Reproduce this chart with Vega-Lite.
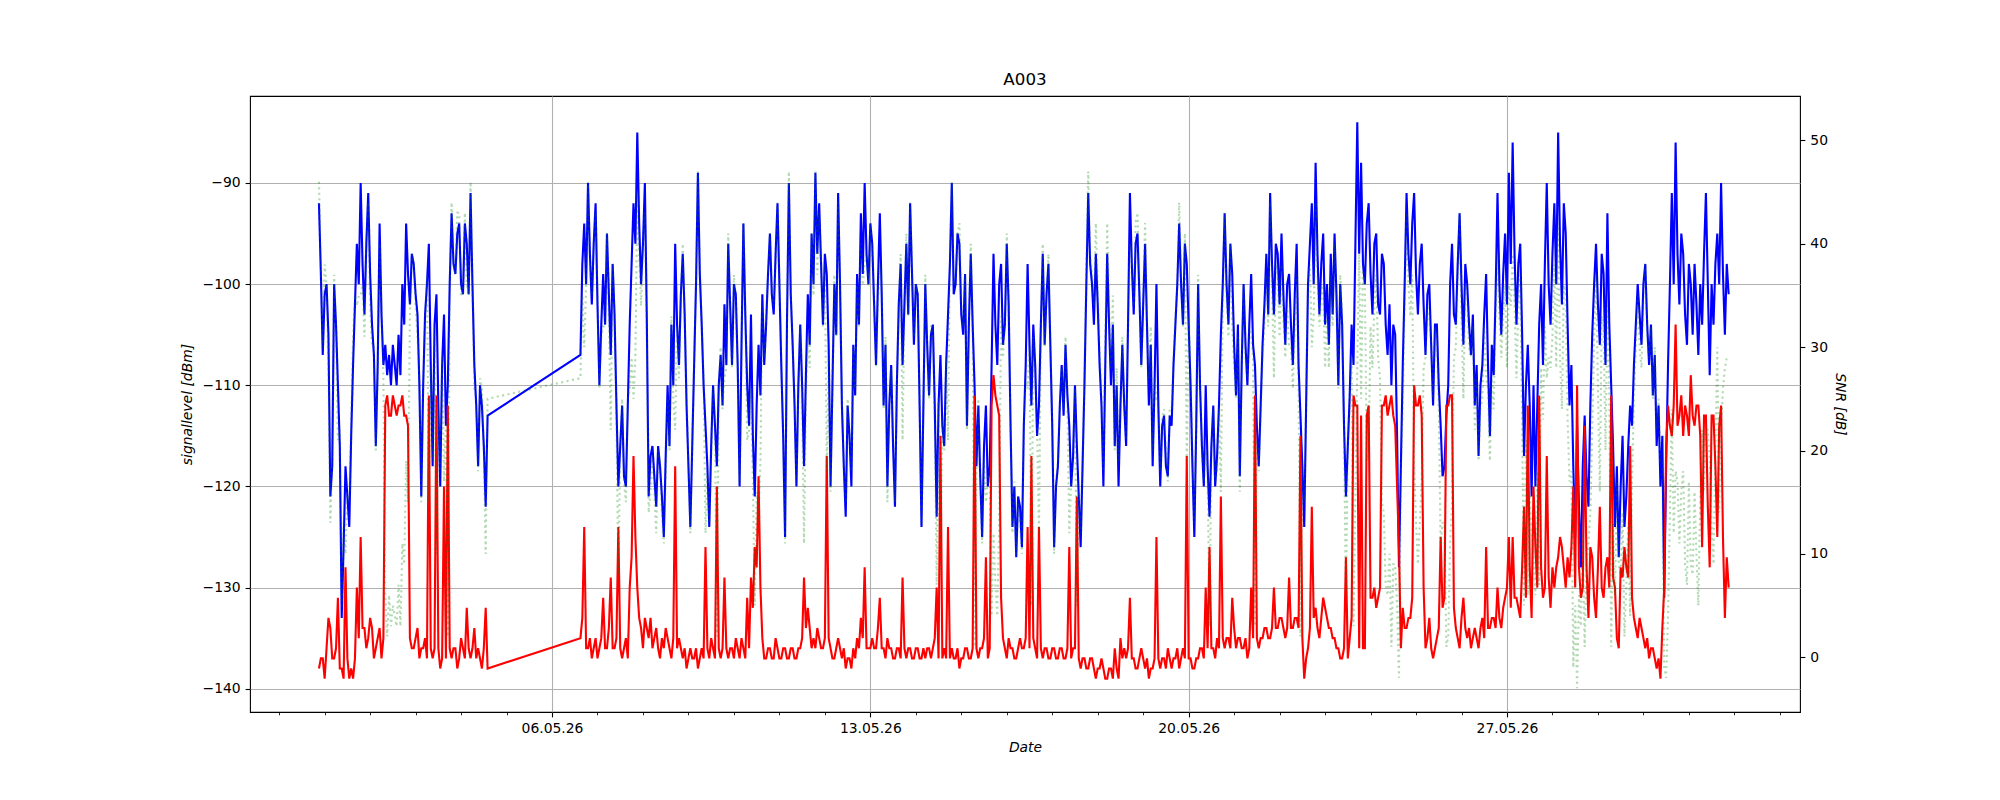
{
"$schema": "https://vega.github.io/schema/vega-lite/v6.json",
"width": 1550, "height": 616,
"autosize": {"type": "none"},
"padding": {"left": 250, "top": 96, "right": 200, "bottom": 88},
"background": "white",
"title": {"text": "A003", "fontSize": 16.7, "fontWeight": "normal", "font": "DejaVu Sans", "color": "black", "offset": 7},
"config": {
 "font": "DejaVu Sans",
 "view": {"stroke": "black", "strokeWidth": 1.1},
 "axis": {"domain": false, "tickColor": "black", "tickWidth": 1.1, "tickSize": 4.9, "labelPadding": 4.9, "labelFontSize": 13.9, "labelColor": "black", "labelFont": "DejaVu Sans", "titleFont": "DejaVu Sans", "titleFontSize": 13.9, "titleFontWeight": "normal", "titleFontStyle": "italic", "titleColor": "black", "gridColor": "#b0b0b0", "gridWidth": 1.1}
},
"data": {"values": [
{"t":"2026-04-30T21:00","s":-92,"n":-138,"r":46},
{"t":"2026-04-30T22:00","s":-99,"n":-137,"r":38},
{"t":"2026-04-30T23:00","s":-107,"n":-137,"r":30},
{"t":"2026-05-01T00:00","s":-101,"n":-139,"r":38},
{"t":"2026-05-01T01:00","s":-100,"n":-136,"r":36},
{"t":"2026-05-01T02:00","s":-105,"n":-133,"r":28},
{"t":"2026-05-01T03:00","s":-121,"n":-134,"r":13},
{"t":"2026-05-01T04:00","s":-118,"n":-137,"r":19},
{"t":"2026-05-01T05:00","s":-100,"n":-137,"r":37},
{"t":"2026-05-01T06:00","s":-104,"n":-136,"r":32},
{"t":"2026-05-01T07:00","s":-110,"n":-131,"r":21},
{"t":"2026-05-01T08:00","s":-116,"n":-138,"r":22},
{"t":"2026-05-01T09:00","s":-133,"n":-138,"r":5},
{"t":"2026-05-01T10:00","s":-126,"n":-139,"r":13},
{"t":"2026-05-01T11:00","s":-118,"n":-128,"r":10},
{"t":"2026-05-01T12:00","s":-121,"n":-137,"r":16},
{"t":"2026-05-01T13:00","s":-124,"n":-139,"r":15},
{"t":"2026-05-01T14:00","s":-115,"n":-138,"r":23},
{"t":"2026-05-01T15:00","s":-108,"n":-139,"r":31},
{"t":"2026-05-01T16:00","s":-102,"n":-137,"r":35},
{"t":"2026-05-01T17:00","s":-96,"n":-130,"r":34},
{"t":"2026-05-01T18:00","s":-100,"n":-135,"r":35},
{"t":"2026-05-01T19:00","s":-90,"n":-125,"r":35},
{"t":"2026-05-01T20:00","s":-98,"n":-134,"r":36},
{"t":"2026-05-01T21:00","s":-103,"n":-134,"r":31},
{"t":"2026-05-01T22:00","s":-96,"n":-136,"r":40},
{"t":"2026-05-01T23:00","s":-91,"n":-135,"r":44},
{"t":"2026-05-02T00:00","s":-99,"n":-133,"r":34},
{"t":"2026-05-02T01:00","s":-104,"n":-134,"r":30},
{"t":"2026-05-02T02:00","s":-107,"n":-137,"r":30},
{"t":"2026-05-02T03:00","s":-116,"n":-136,"r":20},
{"t":"2026-05-02T04:00","s":-108,"n":-135,"r":27},
{"t":"2026-05-02T05:00","s":-94,"n":-134,"r":40},
{"t":"2026-05-02T06:00","s":-103,"n":-137,"r":34},
{"t":"2026-05-02T07:00","s":-108,"n":-135,"r":27},
{"t":"2026-05-02T08:00","s":-106,"n":-112,"r":6},
{"t":"2026-05-02T09:00","s":-109,"n":-111,"r":2},
{"t":"2026-05-02T10:00","s":-107,"n":-113,"r":6},
{"t":"2026-05-02T11:00","s":-110,"n":-113,"r":3},
{"t":"2026-05-02T12:00","s":-106,"n":-111,"r":5},
{"t":"2026-05-02T13:00","s":-108,"n":-112,"r":4},
{"t":"2026-05-02T14:00","s":-110,"n":-113,"r":3},
{"t":"2026-05-02T15:00","s":-105,"n":-112,"r":7},
{"t":"2026-05-02T16:00","s":-109,"n":-112,"r":3},
{"t":"2026-05-02T17:00","s":-100,"n":-111,"r":11},
{"t":"2026-05-02T18:00","s":-104,"n":-113,"r":9},
{"t":"2026-05-02T19:00","s":-94,"n":-113,"r":19},
{"t":"2026-05-02T20:00","s":-99,"n":-114,"r":15},
{"t":"2026-05-02T21:00","s":-102,"n":-135,"r":33},
{"t":"2026-05-02T22:00","s":-97,"n":-136,"r":39},
{"t":"2026-05-02T23:00","s":-98,"n":-136,"r":38},
{"t":"2026-05-03T00:00","s":-101,"n":-135,"r":34},
{"t":"2026-05-03T01:00","s":-103,"n":-134,"r":31},
{"t":"2026-05-03T02:00","s":-110,"n":-137,"r":27},
{"t":"2026-05-03T03:00","s":-121,"n":-136,"r":15},
{"t":"2026-05-03T04:00","s":-110,"n":-136,"r":26},
{"t":"2026-05-03T05:00","s":-103,"n":-135,"r":32},
{"t":"2026-05-03T06:00","s":-100,"n":-137,"r":37},
{"t":"2026-05-03T07:00","s":-96,"n":-111,"r":15},
{"t":"2026-05-03T08:00","s":-108,"n":-136,"r":28},
{"t":"2026-05-03T09:00","s":-118,"n":-137,"r":19},
{"t":"2026-05-03T10:00","s":-104,"n":-136,"r":32},
{"t":"2026-05-03T11:00","s":-101,"n":-111,"r":10},
{"t":"2026-05-03T12:00","s":-112,"n":-136,"r":24},
{"t":"2026-05-03T13:00","s":-120,"n":-138,"r":18},
{"t":"2026-05-03T14:00","s":-108,"n":-137,"r":29},
{"t":"2026-05-03T15:00","s":-103,"n":-120,"r":17},
{"t":"2026-05-03T16:00","s":-114,"n":-137,"r":23},
{"t":"2026-05-03T17:00","s":-110,"n":-112,"r":2},
{"t":"2026-05-03T18:00","s":-100,"n":-136,"r":36},
{"t":"2026-05-03T19:00","s":-93,"n":-137,"r":44},
{"t":"2026-05-03T20:00","s":-98,"n":-136,"r":38},
{"t":"2026-05-03T21:00","s":-99,"n":-136,"r":37},
{"t":"2026-05-03T22:00","s":-95,"n":-138,"r":43},
{"t":"2026-05-03T23:00","s":-94,"n":-137,"r":43},
{"t":"2026-05-04T00:00","s":-100,"n":-135,"r":35},
{"t":"2026-05-04T01:00","s":-101,"n":-136,"r":35},
{"t":"2026-05-04T02:00","s":-94,"n":-137,"r":43},
{"t":"2026-05-04T03:00","s":-96,"n":-132,"r":36},
{"t":"2026-05-04T04:00","s":-101,"n":-136,"r":35},
{"t":"2026-05-04T05:00","s":-91,"n":-137,"r":46},
{"t":"2026-05-04T06:00","s":-100,"n":-136,"r":36},
{"t":"2026-05-04T07:00","s":-108,"n":-134,"r":26},
{"t":"2026-05-04T08:00","s":-112,"n":-137,"r":25},
{"t":"2026-05-04T09:00","s":-118,"n":-136,"r":18},
{"t":"2026-05-04T10:00","s":-110,"n":-137,"r":27},
{"t":"2026-05-04T11:00","s":-112,"n":-138,"r":26},
{"t":"2026-05-04T12:00","s":-116,"n":-136,"r":20},
{"t":"2026-05-04T13:00","s":-122,"n":-132,"r":10},
{"t":"2026-05-04T14:00","s":-113,"n":-138,"r":25},
{"t":"2026-05-06T15:00","s":-107,"n":-135,"r":27},
{"t":"2026-05-06T16:00","s":-98,"n":-133,"r":35},
{"t":"2026-05-06T17:00","s":-94,"n":-124,"r":30},
{"t":"2026-05-06T18:00","s":-100,"n":-136,"r":36},
{"t":"2026-05-06T19:00","s":-90,"n":-136,"r":46},
{"t":"2026-05-06T20:00","s":-97,"n":-135,"r":38},
{"t":"2026-05-06T21:00","s":-102,"n":-137,"r":35},
{"t":"2026-05-06T22:00","s":-96,"n":-136,"r":40},
{"t":"2026-05-06T23:00","s":-92,"n":-135,"r":43},
{"t":"2026-05-07T00:00","s":-102,"n":-137,"r":35},
{"t":"2026-05-07T01:00","s":-110,"n":-136,"r":26},
{"t":"2026-05-07T02:00","s":-104,"n":-135,"r":31},
{"t":"2026-05-07T03:00","s":-99,"n":-131,"r":32},
{"t":"2026-05-07T04:00","s":-104,"n":-136,"r":32},
{"t":"2026-05-07T05:00","s":-95,"n":-136,"r":41},
{"t":"2026-05-07T06:00","s":-101,"n":-134,"r":33},
{"t":"2026-05-07T07:00","s":-107,"n":-129,"r":22},
{"t":"2026-05-07T08:00","s":-98,"n":-136,"r":38},
{"t":"2026-05-07T09:00","s":-103,"n":-136,"r":33},
{"t":"2026-05-07T10:00","s":-112,"n":-135,"r":23},
{"t":"2026-05-07T11:00","s":-120,"n":-124,"r":8},
{"t":"2026-05-07T12:00","s":-116,"n":-136,"r":20},
{"t":"2026-05-07T13:00","s":-112,"n":-137,"r":25},
{"t":"2026-05-07T14:00","s":-119,"n":-136,"r":17},
{"t":"2026-05-07T15:00","s":-120,"n":-135,"r":15},
{"t":"2026-05-07T16:00","s":-112,"n":-137,"r":25},
{"t":"2026-05-07T17:00","s":-104,"n":-130,"r":26},
{"t":"2026-05-07T18:00","s":-98,"n":-127,"r":29},
{"t":"2026-05-07T19:00","s":-92,"n":-117,"r":25},
{"t":"2026-05-07T20:00","s":-96,"n":-125,"r":29},
{"t":"2026-05-07T21:00","s":-85,"n":-130,"r":45},
{"t":"2026-05-07T22:00","s":-94,"n":-133,"r":39},
{"t":"2026-05-07T23:00","s":-100,"n":-134,"r":34},
{"t":"2026-05-08T00:00","s":-96,"n":-136,"r":40},
{"t":"2026-05-08T01:00","s":-90,"n":-133,"r":43},
{"t":"2026-05-08T02:00","s":-103,"n":-134,"r":31},
{"t":"2026-05-08T03:00","s":-121,"n":-135,"r":14},
{"t":"2026-05-08T04:00","s":-117,"n":-133,"r":16},
{"t":"2026-05-08T05:00","s":-116,"n":-136,"r":20},
{"t":"2026-05-08T06:00","s":-119,"n":-135,"r":16},
{"t":"2026-05-08T07:00","s":-122,"n":-134,"r":12},
{"t":"2026-05-08T08:00","s":-116,"n":-136,"r":20},
{"t":"2026-05-08T09:00","s":-118,"n":-137,"r":19},
{"t":"2026-05-08T10:00","s":-121,"n":-135,"r":14},
{"t":"2026-05-08T11:00","s":-125,"n":-136,"r":11},
{"t":"2026-05-08T12:00","s":-117,"n":-134,"r":17},
{"t":"2026-05-08T13:00","s":-110,"n":-135,"r":25},
{"t":"2026-05-08T14:00","s":-116,"n":-136,"r":20},
{"t":"2026-05-08T15:00","s":-104,"n":-137,"r":33},
{"t":"2026-05-08T16:00","s":-110,"n":-135,"r":25},
{"t":"2026-05-08T17:00","s":-96,"n":-118,"r":22},
{"t":"2026-05-08T18:00","s":-104,"n":-136,"r":32},
{"t":"2026-05-08T19:00","s":-108,"n":-135,"r":27},
{"t":"2026-05-08T20:00","s":-101,"n":-136,"r":35},
{"t":"2026-05-08T21:00","s":-97,"n":-137,"r":40},
{"t":"2026-05-08T22:00","s":-103,"n":-136,"r":33},
{"t":"2026-05-08T23:00","s":-112,"n":-138,"r":26},
{"t":"2026-05-09T00:00","s":-118,"n":-137,"r":19},
{"t":"2026-05-09T01:00","s":-124,"n":-136,"r":12},
{"t":"2026-05-09T02:00","s":-116,"n":-137,"r":21},
{"t":"2026-05-09T03:00","s":-108,"n":-137,"r":29},
{"t":"2026-05-09T04:00","s":-100,"n":-136,"r":36},
{"t":"2026-05-09T05:00","s":-89,"n":-138,"r":47},
{"t":"2026-05-09T06:00","s":-99,"n":-137,"r":38},
{"t":"2026-05-09T07:00","s":-104,"n":-136,"r":32},
{"t":"2026-05-09T08:00","s":-110,"n":-137,"r":27},
{"t":"2026-05-09T09:00","s":-114,"n":-126,"r":12},
{"t":"2026-05-09T10:00","s":-118,"n":-136,"r":18},
{"t":"2026-05-09T11:00","s":-124,"n":-137,"r":13},
{"t":"2026-05-09T12:00","s":-116,"n":-135,"r":19},
{"t":"2026-05-09T13:00","s":-110,"n":-136,"r":26},
{"t":"2026-05-09T14:00","s":-114,"n":-137,"r":23},
{"t":"2026-05-09T15:00","s":-118,"n":-120,"r":2},
{"t":"2026-05-09T16:00","s":-110,"n":-136,"r":26},
{"t":"2026-05-09T17:00","s":-107,"n":-137,"r":30},
{"t":"2026-05-09T18:00","s":-112,"n":-136,"r":24},
{"t":"2026-05-09T19:00","s":-102,"n":-129,"r":27},
{"t":"2026-05-09T20:00","s":-108,"n":-136,"r":28},
{"t":"2026-05-09T21:00","s":-96,"n":-137,"r":41},
{"t":"2026-05-09T22:00","s":-102,"n":-136,"r":34},
{"t":"2026-05-09T23:00","s":-108,"n":-136,"r":28},
{"t":"2026-05-10T00:00","s":-100,"n":-137,"r":37},
{"t":"2026-05-10T01:00","s":-101,"n":-135,"r":34},
{"t":"2026-05-10T02:00","s":-108,"n":-136,"r":28},
{"t":"2026-05-10T03:00","s":-120,"n":-137,"r":17},
{"t":"2026-05-10T04:00","s":-106,"n":-135,"r":29},
{"t":"2026-05-10T05:00","s":-94,"n":-136,"r":42},
{"t":"2026-05-10T06:00","s":-103,"n":-137,"r":34},
{"t":"2026-05-10T07:00","s":-110,"n":-131,"r":21},
{"t":"2026-05-10T08:00","s":-114,"n":-136,"r":22},
{"t":"2026-05-10T09:00","s":-103,"n":-129,"r":26},
{"t":"2026-05-10T10:00","s":-115,"n":-132,"r":17},
{"t":"2026-05-10T11:00","s":-121,"n":-126,"r":5},
{"t":"2026-05-10T12:00","s":-112,"n":-128,"r":16},
{"t":"2026-05-10T13:00","s":-106,"n":-119,"r":13},
{"t":"2026-05-10T14:00","s":-111,"n":-130,"r":19},
{"t":"2026-05-10T15:00","s":-101,"n":-135,"r":34},
{"t":"2026-05-10T16:00","s":-108,"n":-137,"r":29},
{"t":"2026-05-10T17:00","s":-104,"n":-137,"r":33},
{"t":"2026-05-10T18:00","s":-99,"n":-136,"r":37},
{"t":"2026-05-10T19:00","s":-95,"n":-136,"r":41},
{"t":"2026-05-10T20:00","s":-101,"n":-137,"r":36},
{"t":"2026-05-10T21:00","s":-103,"n":-137,"r":34},
{"t":"2026-05-10T22:00","s":-97,"n":-135,"r":38},
{"t":"2026-05-10T23:00","s":-92,"n":-136,"r":44},
{"t":"2026-05-11T00:00","s":-100,"n":-137,"r":37},
{"t":"2026-05-11T01:00","s":-108,"n":-137,"r":29},
{"t":"2026-05-11T02:00","s":-115,"n":-136,"r":21},
{"t":"2026-05-11T03:00","s":-125,"n":-136,"r":11},
{"t":"2026-05-11T04:00","s":-104,"n":-137,"r":33},
{"t":"2026-05-11T05:00","s":-90,"n":-137,"r":47},
{"t":"2026-05-11T06:00","s":-101,"n":-136,"r":35},
{"t":"2026-05-11T07:00","s":-106,"n":-136,"r":30},
{"t":"2026-05-11T08:00","s":-112,"n":-137,"r":25},
{"t":"2026-05-11T09:00","s":-120,"n":-137,"r":17},
{"t":"2026-05-11T10:00","s":-110,"n":-136,"r":26},
{"t":"2026-05-11T11:00","s":-104,"n":-136,"r":32},
{"t":"2026-05-11T12:00","s":-110,"n":-135,"r":25},
{"t":"2026-05-11T13:00","s":-118,"n":-129,"r":11},
{"t":"2026-05-11T14:00","s":-109,"n":-134,"r":25},
{"t":"2026-05-11T15:00","s":-101,"n":-132,"r":31},
{"t":"2026-05-11T16:00","s":-106,"n":-134,"r":28},
{"t":"2026-05-11T17:00","s":-95,"n":-136,"r":41},
{"t":"2026-05-11T18:00","s":-100,"n":-135,"r":35},
{"t":"2026-05-11T19:00","s":-89,"n":-136,"r":47},
{"t":"2026-05-11T20:00","s":-97,"n":-134,"r":37},
{"t":"2026-05-11T21:00","s":-92,"n":-135,"r":43},
{"t":"2026-05-11T22:00","s":-98,"n":-136,"r":38},
{"t":"2026-05-11T23:00","s":-104,"n":-136,"r":32},
{"t":"2026-05-12T00:00","s":-97,"n":-135,"r":38},
{"t":"2026-05-12T01:00","s":-99,"n":-117,"r":18},
{"t":"2026-05-12T02:00","s":-106,"n":-135,"r":29},
{"t":"2026-05-12T03:00","s":-120,"n":-136,"r":16},
{"t":"2026-05-12T04:00","s":-110,"n":-137,"r":27},
{"t":"2026-05-12T05:00","s":-100,"n":-137,"r":37},
{"t":"2026-05-12T06:00","s":-105,"n":-136,"r":31},
{"t":"2026-05-12T07:00","s":-91,"n":-135,"r":44},
{"t":"2026-05-12T08:00","s":-100,"n":-136,"r":36},
{"t":"2026-05-12T09:00","s":-112,"n":-137,"r":25},
{"t":"2026-05-12T10:00","s":-118,"n":-136,"r":18},
{"t":"2026-05-12T11:00","s":-123,"n":-138,"r":15},
{"t":"2026-05-12T12:00","s":-112,"n":-137,"r":25},
{"t":"2026-05-12T13:00","s":-115,"n":-137,"r":22},
{"t":"2026-05-12T14:00","s":-120,"n":-138,"r":18},
{"t":"2026-05-12T15:00","s":-106,"n":-136,"r":30},
{"t":"2026-05-12T16:00","s":-111,"n":-137,"r":26},
{"t":"2026-05-12T17:00","s":-99,"n":-135,"r":36},
{"t":"2026-05-12T18:00","s":-104,"n":-136,"r":32},
{"t":"2026-05-12T19:00","s":-93,"n":-133,"r":40},
{"t":"2026-05-12T20:00","s":-99,"n":-135,"r":36},
{"t":"2026-05-12T21:00","s":-90,"n":-128,"r":38},
{"t":"2026-05-12T22:00","s":-97,"n":-136,"r":39},
{"t":"2026-05-12T23:00","s":-100,"n":-136,"r":36},
{"t":"2026-05-13T00:00","s":-94,"n":-136,"r":42},
{"t":"2026-05-13T01:00","s":-96,"n":-135,"r":39},
{"t":"2026-05-13T02:00","s":-102,"n":-136,"r":34},
{"t":"2026-05-13T03:00","s":-108,"n":-136,"r":28},
{"t":"2026-05-13T04:00","s":-100,"n":-134,"r":34},
{"t":"2026-05-13T05:00","s":-93,"n":-131,"r":38},
{"t":"2026-05-13T06:00","s":-101,"n":-136,"r":35},
{"t":"2026-05-13T07:00","s":-112,"n":-136,"r":24},
{"t":"2026-05-13T08:00","s":-106,"n":-137,"r":31},
{"t":"2026-05-13T09:00","s":-120,"n":-135,"r":15},
{"t":"2026-05-13T10:00","s":-112,"n":-136,"r":24},
{"t":"2026-05-13T11:00","s":-108,"n":-136,"r":28},
{"t":"2026-05-13T12:00","s":-116,"n":-137,"r":21},
{"t":"2026-05-13T13:00","s":-122,"n":-137,"r":15},
{"t":"2026-05-13T14:00","s":-110,"n":-136,"r":26},
{"t":"2026-05-13T15:00","s":-102,"n":-136,"r":34},
{"t":"2026-05-13T16:00","s":-98,"n":-137,"r":39},
{"t":"2026-05-13T17:00","s":-108,"n":-129,"r":21},
{"t":"2026-05-13T18:00","s":-102,"n":-136,"r":34},
{"t":"2026-05-13T19:00","s":-96,"n":-137,"r":41},
{"t":"2026-05-13T20:00","s":-103,"n":-136,"r":33},
{"t":"2026-05-13T21:00","s":-92,"n":-136,"r":44},
{"t":"2026-05-13T22:00","s":-99,"n":-137,"r":38},
{"t":"2026-05-13T23:00","s":-106,"n":-137,"r":31},
{"t":"2026-05-14T00:00","s":-100,"n":-136,"r":36},
{"t":"2026-05-14T01:00","s":-101,"n":-136,"r":35},
{"t":"2026-05-14T02:00","s":-112,"n":-137,"r":25},
{"t":"2026-05-14T03:00","s":-124,"n":-137,"r":13},
{"t":"2026-05-14T04:00","s":-112,"n":-136,"r":24},
{"t":"2026-05-14T05:00","s":-100,"n":-137,"r":37},
{"t":"2026-05-14T06:00","s":-106,"n":-136,"r":30},
{"t":"2026-05-14T07:00","s":-111,"n":-136,"r":25},
{"t":"2026-05-14T08:00","s":-105,"n":-137,"r":32},
{"t":"2026-05-14T09:00","s":-104,"n":-136,"r":32},
{"t":"2026-05-14T10:00","s":-112,"n":-135,"r":23},
{"t":"2026-05-14T11:00","s":-123,"n":-130,"r":7},
{"t":"2026-05-14T12:00","s":-112,"n":-137,"r":25},
{"t":"2026-05-14T13:00","s":-107,"n":-115,"r":8},
{"t":"2026-05-14T14:00","s":-114,"n":-137,"r":23},
{"t":"2026-05-14T15:00","s":-116,"n":-136,"r":20},
{"t":"2026-05-14T16:00","s":-108,"n":-137,"r":29},
{"t":"2026-05-14T17:00","s":-103,"n":-124,"r":21},
{"t":"2026-05-14T18:00","s":-98,"n":-137,"r":39},
{"t":"2026-05-14T19:00","s":-90,"n":-136,"r":46},
{"t":"2026-05-14T20:00","s":-101,"n":-137,"r":36},
{"t":"2026-05-14T21:00","s":-100,"n":-137,"r":37},
{"t":"2026-05-14T22:00","s":-95,"n":-136,"r":41},
{"t":"2026-05-14T23:00","s":-96,"n":-138,"r":42},
{"t":"2026-05-15T00:00","s":-103,"n":-137,"r":34},
{"t":"2026-05-15T01:00","s":-105,"n":-137,"r":32},
{"t":"2026-05-15T02:00","s":-99,"n":-136,"r":37},
{"t":"2026-05-15T03:00","s":-114,"n":-136,"r":22},
{"t":"2026-05-15T04:00","s":-104,"n":-137,"r":33},
{"t":"2026-05-15T05:00","s":-97,"n":-137,"r":40},
{"t":"2026-05-15T06:00","s":-104,"n":-136,"r":32},
{"t":"2026-05-15T07:00","s":-110,"n":-111,"r":1},
{"t":"2026-05-15T08:00","s":-118,"n":-136,"r":18},
{"t":"2026-05-15T09:00","s":-112,"n":-137,"r":25},
{"t":"2026-05-15T10:00","s":-119,"n":-136,"r":17},
{"t":"2026-05-15T11:00","s":-125,"n":-136,"r":11},
{"t":"2026-05-15T12:00","s":-116,"n":-135,"r":19},
{"t":"2026-05-15T13:00","s":-112,"n":-127,"r":15},
{"t":"2026-05-15T14:00","s":-120,"n":-137,"r":17},
{"t":"2026-05-15T15:00","s":-118,"n":-136,"r":18},
{"t":"2026-05-15T16:00","s":-108,"n":-112,"r":4},
{"t":"2026-05-15T17:00","s":-97,"n":-109,"r":12},
{"t":"2026-05-15T18:00","s":-104,"n":-111,"r":7},
{"t":"2026-05-15T19:00","s":-108,"n":-112,"r":4},
{"t":"2026-05-15T20:00","s":-100,"n":-113,"r":13},
{"t":"2026-05-15T21:00","s":-98,"n":-131,"r":33},
{"t":"2026-05-15T22:00","s":-106,"n":-135,"r":29},
{"t":"2026-05-15T23:00","s":-104,"n":-136,"r":32},
{"t":"2026-05-16T00:00","s":-96,"n":-137,"r":41},
{"t":"2026-05-16T01:00","s":-102,"n":-135,"r":33},
{"t":"2026-05-16T02:00","s":-114,"n":-136,"r":22},
{"t":"2026-05-16T03:00","s":-124,"n":-136,"r":12},
{"t":"2026-05-16T04:00","s":-120,"n":-137,"r":17},
{"t":"2026-05-16T05:00","s":-127,"n":-137,"r":10},
{"t":"2026-05-16T06:00","s":-121,"n":-136,"r":15},
{"t":"2026-05-16T07:00","s":-122,"n":-135,"r":13},
{"t":"2026-05-16T08:00","s":-126,"n":-136,"r":10},
{"t":"2026-05-16T09:00","s":-114,"n":-136,"r":22},
{"t":"2026-05-16T10:00","s":-108,"n":-135,"r":27},
{"t":"2026-05-16T11:00","s":-98,"n":-124,"r":26},
{"t":"2026-05-16T12:00","s":-106,"n":-136,"r":30},
{"t":"2026-05-16T13:00","s":-112,"n":-117,"r":5},
{"t":"2026-05-16T14:00","s":-104,"n":-135,"r":31},
{"t":"2026-05-16T15:00","s":-108,"n":-136,"r":28},
{"t":"2026-05-16T16:00","s":-115,"n":-137,"r":22},
{"t":"2026-05-16T17:00","s":-112,"n":-124,"r":12},
{"t":"2026-05-16T18:00","s":-104,"n":-136,"r":32},
{"t":"2026-05-16T19:00","s":-97,"n":-137,"r":40},
{"t":"2026-05-16T20:00","s":-106,"n":-136,"r":30},
{"t":"2026-05-16T21:00","s":-101,"n":-136,"r":35},
{"t":"2026-05-16T22:00","s":-98,"n":-137,"r":39},
{"t":"2026-05-16T23:00","s":-106,"n":-137,"r":31},
{"t":"2026-05-17T00:00","s":-114,"n":-136,"r":22},
{"t":"2026-05-17T01:00","s":-126,"n":-136,"r":10},
{"t":"2026-05-17T02:00","s":-120,"n":-137,"r":17},
{"t":"2026-05-17T03:00","s":-118,"n":-137,"r":19},
{"t":"2026-05-17T04:00","s":-112,"n":-136,"r":24},
{"t":"2026-05-17T05:00","s":-108,"n":-136,"r":28},
{"t":"2026-05-17T06:00","s":-113,"n":-137,"r":24},
{"t":"2026-05-17T07:00","s":-106,"n":-137,"r":31},
{"t":"2026-05-17T08:00","s":-111,"n":-136,"r":25},
{"t":"2026-05-17T09:00","s":-114,"n":-126,"r":12},
{"t":"2026-05-17T10:00","s":-120,"n":-137,"r":17},
{"t":"2026-05-17T11:00","s":-117,"n":-136,"r":19},
{"t":"2026-05-17T12:00","s":-110,"n":-136,"r":26},
{"t":"2026-05-17T13:00","s":-116,"n":-121,"r":5},
{"t":"2026-05-17T14:00","s":-121,"n":-137,"r":16},
{"t":"2026-05-17T15:00","s":-126,"n":-138,"r":12},
{"t":"2026-05-17T16:00","s":-118,"n":-137,"r":19},
{"t":"2026-05-17T17:00","s":-110,"n":-137,"r":27},
{"t":"2026-05-17T18:00","s":-100,"n":-138,"r":38},
{"t":"2026-05-17T19:00","s":-91,"n":-138,"r":47},
{"t":"2026-05-17T20:00","s":-98,"n":-137,"r":39},
{"t":"2026-05-17T21:00","s":-100,"n":-137,"r":37},
{"t":"2026-05-17T22:00","s":-104,"n":-138,"r":34},
{"t":"2026-05-17T23:00","s":-97,"n":-139,"r":42},
{"t":"2026-05-18T00:00","s":-102,"n":-138,"r":36},
{"t":"2026-05-18T01:00","s":-108,"n":-138,"r":30},
{"t":"2026-05-18T02:00","s":-112,"n":-137,"r":25},
{"t":"2026-05-18T03:00","s":-120,"n":-138,"r":18},
{"t":"2026-05-18T04:00","s":-108,"n":-139,"r":31},
{"t":"2026-05-18T05:00","s":-97,"n":-139,"r":42},
{"t":"2026-05-18T06:00","s":-104,"n":-138,"r":34},
{"t":"2026-05-18T07:00","s":-110,"n":-138,"r":28},
{"t":"2026-05-18T08:00","s":-104,"n":-139,"r":35},
{"t":"2026-05-18T09:00","s":-116,"n":-136,"r":20},
{"t":"2026-05-18T10:00","s":-110,"n":-138,"r":28},
{"t":"2026-05-18T11:00","s":-120,"n":-139,"r":19},
{"t":"2026-05-18T12:00","s":-112,"n":-135,"r":23},
{"t":"2026-05-18T13:00","s":-106,"n":-137,"r":31},
{"t":"2026-05-18T14:00","s":-112,"n":-136,"r":24},
{"t":"2026-05-18T15:00","s":-116,"n":-137,"r":21},
{"t":"2026-05-18T16:00","s":-104,"n":-136,"r":32},
{"t":"2026-05-18T17:00","s":-91,"n":-131,"r":40},
{"t":"2026-05-18T18:00","s":-98,"n":-137,"r":39},
{"t":"2026-05-18T19:00","s":-103,"n":-137,"r":34},
{"t":"2026-05-18T20:00","s":-96,"n":-138,"r":42},
{"t":"2026-05-18T21:00","s":-95,"n":-138,"r":43},
{"t":"2026-05-18T22:00","s":-101,"n":-137,"r":36},
{"t":"2026-05-18T23:00","s":-108,"n":-136,"r":28},
{"t":"2026-05-19T00:00","s":-102,"n":-137,"r":35},
{"t":"2026-05-19T01:00","s":-96,"n":-138,"r":42},
{"t":"2026-05-19T02:00","s":-104,"n":-137,"r":33},
{"t":"2026-05-19T03:00","s":-112,"n":-139,"r":27},
{"t":"2026-05-19T04:00","s":-106,"n":-138,"r":32},
{"t":"2026-05-19T05:00","s":-118,"n":-138,"r":20},
{"t":"2026-05-19T06:00","s":-110,"n":-137,"r":27},
{"t":"2026-05-19T07:00","s":-100,"n":-125,"r":25},
{"t":"2026-05-19T08:00","s":-112,"n":-137,"r":25},
{"t":"2026-05-19T09:00","s":-120,"n":-138,"r":18},
{"t":"2026-05-19T10:00","s":-114,"n":-137,"r":23},
{"t":"2026-05-19T11:00","s":-113,"n":-137,"r":24},
{"t":"2026-05-19T12:00","s":-118,"n":-138,"r":20},
{"t":"2026-05-19T13:00","s":-119,"n":-136,"r":17},
{"t":"2026-05-19T14:00","s":-113,"n":-137,"r":24},
{"t":"2026-05-19T15:00","s":-114,"n":-138,"r":24},
{"t":"2026-05-19T16:00","s":-108,"n":-137,"r":29},
{"t":"2026-05-19T17:00","s":-104,"n":-137,"r":33},
{"t":"2026-05-19T18:00","s":-100,"n":-136,"r":36},
{"t":"2026-05-19T19:00","s":-94,"n":-138,"r":44},
{"t":"2026-05-19T20:00","s":-100,"n":-137,"r":37},
{"t":"2026-05-19T21:00","s":-104,"n":-136,"r":32},
{"t":"2026-05-19T22:00","s":-96,"n":-137,"r":41},
{"t":"2026-05-19T23:00","s":-98,"n":-117,"r":19},
{"t":"2026-05-20T00:00","s":-104,"n":-137,"r":33},
{"t":"2026-05-20T01:00","s":-110,"n":-137,"r":27},
{"t":"2026-05-20T02:00","s":-118,"n":-138,"r":20},
{"t":"2026-05-20T03:00","s":-125,"n":-138,"r":13},
{"t":"2026-05-20T04:00","s":-114,"n":-137,"r":23},
{"t":"2026-05-20T05:00","s":-100,"n":-137,"r":37},
{"t":"2026-05-20T06:00","s":-110,"n":-136,"r":26},
{"t":"2026-05-20T07:00","s":-116,"n":-136,"r":20},
{"t":"2026-05-20T08:00","s":-120,"n":-137,"r":17},
{"t":"2026-05-20T09:00","s":-110,"n":-130,"r":20},
{"t":"2026-05-20T10:00","s":-118,"n":-136,"r":18},
{"t":"2026-05-20T11:00","s":-123,"n":-126,"r":3},
{"t":"2026-05-20T12:00","s":-116,"n":-136,"r":20},
{"t":"2026-05-20T13:00","s":-112,"n":-136,"r":24},
{"t":"2026-05-20T14:00","s":-120,"n":-137,"r":17},
{"t":"2026-05-20T15:00","s":-117,"n":-135,"r":18},
{"t":"2026-05-20T16:00","s":-112,"n":-136,"r":24},
{"t":"2026-05-20T17:00","s":-105,"n":-121,"r":16},
{"t":"2026-05-20T18:00","s":-100,"n":-135,"r":35},
{"t":"2026-05-20T19:00","s":-93,"n":-136,"r":43},
{"t":"2026-05-20T20:00","s":-100,"n":-135,"r":35},
{"t":"2026-05-20T21:00","s":-104,"n":-135,"r":31},
{"t":"2026-05-20T22:00","s":-96,"n":-136,"r":40},
{"t":"2026-05-20T23:00","s":-99,"n":-131,"r":32},
{"t":"2026-05-21T00:00","s":-106,"n":-134,"r":28},
{"t":"2026-05-21T01:00","s":-111,"n":-136,"r":25},
{"t":"2026-05-21T02:00","s":-104,"n":-135,"r":31},
{"t":"2026-05-21T03:00","s":-119,"n":-135,"r":16},
{"t":"2026-05-21T04:00","s":-108,"n":-136,"r":28},
{"t":"2026-05-21T05:00","s":-100,"n":-136,"r":36},
{"t":"2026-05-21T06:00","s":-106,"n":-135,"r":29},
{"t":"2026-05-21T07:00","s":-110,"n":-137,"r":27},
{"t":"2026-05-21T08:00","s":-104,"n":-136,"r":32},
{"t":"2026-05-21T09:00","s":-99,"n":-130,"r":31},
{"t":"2026-05-21T10:00","s":-106,"n":-135,"r":29},
{"t":"2026-05-21T11:00","s":-108,"n":-111,"r":3},
{"t":"2026-05-21T12:00","s":-114,"n":-135,"r":21},
{"t":"2026-05-21T13:00","s":-118,"n":-136,"r":18},
{"t":"2026-05-21T14:00","s":-112,"n":-135,"r":23},
{"t":"2026-05-21T15:00","s":-106,"n":-135,"r":29},
{"t":"2026-05-21T16:00","s":-102,"n":-134,"r":32},
{"t":"2026-05-21T17:00","s":-97,"n":-134,"r":37},
{"t":"2026-05-21T18:00","s":-103,"n":-135,"r":32},
{"t":"2026-05-21T19:00","s":-91,"n":-135,"r":44},
{"t":"2026-05-21T20:00","s":-98,"n":-134,"r":36},
{"t":"2026-05-21T21:00","s":-103,"n":-130,"r":27},
{"t":"2026-05-21T22:00","s":-96,"n":-134,"r":38},
{"t":"2026-05-21T23:00","s":-97,"n":-134,"r":37},
{"t":"2026-05-22T00:00","s":-102,"n":-133,"r":31},
{"t":"2026-05-22T01:00","s":-95,"n":-133,"r":38},
{"t":"2026-05-22T02:00","s":-101,"n":-134,"r":33},
{"t":"2026-05-22T03:00","s":-106,"n":-135,"r":29},
{"t":"2026-05-22T04:00","s":-100,"n":-134,"r":34},
{"t":"2026-05-22T05:00","s":-99,"n":-129,"r":30},
{"t":"2026-05-22T06:00","s":-104,"n":-134,"r":30},
{"t":"2026-05-22T07:00","s":-108,"n":-134,"r":26},
{"t":"2026-05-22T08:00","s":-101,"n":-133,"r":32},
{"t":"2026-05-22T09:00","s":-96,"n":-133,"r":37},
{"t":"2026-05-22T10:00","s":-108,"n":-134,"r":26},
{"t":"2026-05-22T11:00","s":-113,"n":-115,"r":2},
{"t":"2026-05-22T12:00","s":-118,"n":-135,"r":17},
{"t":"2026-05-22T13:00","s":-124,"n":-139,"r":15},
{"t":"2026-05-22T14:00","s":-112,"n":-137,"r":25},
{"t":"2026-05-22T15:00","s":-100,"n":-136,"r":36},
{"t":"2026-05-22T16:00","s":-96,"n":-134,"r":38},
{"t":"2026-05-22T17:00","s":-92,"n":-122,"r":30},
{"t":"2026-05-22T18:00","s":-100,"n":-133,"r":33},
{"t":"2026-05-22T19:00","s":-88,"n":-132,"r":44},
{"t":"2026-05-22T20:00","s":-97,"n":-134,"r":37},
{"t":"2026-05-22T21:00","s":-103,"n":-135,"r":32},
{"t":"2026-05-22T22:00","s":-98,"n":-133,"r":35},
{"t":"2026-05-22T23:00","s":-95,"n":-131,"r":36},
{"t":"2026-05-23T00:00","s":-104,"n":-132,"r":28},
{"t":"2026-05-23T01:00","s":-100,"n":-133,"r":33},
{"t":"2026-05-23T02:00","s":-106,"n":-134,"r":28},
{"t":"2026-05-23T03:00","s":-97,"n":-134,"r":37},
{"t":"2026-05-23T04:00","s":-103,"n":-135,"r":32},
{"t":"2026-05-23T05:00","s":-95,"n":-135,"r":40},
{"t":"2026-05-23T06:00","s":-101,"n":-136,"r":35},
{"t":"2026-05-23T07:00","s":-110,"n":-136,"r":26},
{"t":"2026-05-23T08:00","s":-100,"n":-137,"r":37},
{"t":"2026-05-23T09:00","s":-104,"n":-137,"r":33},
{"t":"2026-05-23T10:00","s":-114,"n":-136,"r":22},
{"t":"2026-05-23T11:00","s":-121,"n":-127,"r":6},
{"t":"2026-05-23T12:00","s":-116,"n":-137,"r":21},
{"t":"2026-05-23T13:00","s":-111,"n":-135,"r":24},
{"t":"2026-05-23T14:00","s":-104,"n":-133,"r":29},
{"t":"2026-05-23T15:00","s":-108,"n":-111,"r":3},
{"t":"2026-05-23T16:00","s":-96,"n":-112,"r":16},
{"t":"2026-05-23T17:00","s":-84,"n":-112,"r":28},
{"t":"2026-05-23T18:00","s":-97,"n":-136,"r":39},
{"t":"2026-05-23T19:00","s":-88,"n":-113,"r":25},
{"t":"2026-05-23T20:00","s":-98,"n":-136,"r":38},
{"t":"2026-05-23T21:00","s":-100,"n":-136,"r":36},
{"t":"2026-05-23T22:00","s":-94,"n":-113,"r":19},
{"t":"2026-05-23T23:00","s":-92,"n":-112,"r":20},
{"t":"2026-05-24T00:00","s":-99,"n":-131,"r":32},
{"t":"2026-05-24T01:00","s":-103,"n":-131,"r":28},
{"t":"2026-05-24T02:00","s":-96,"n":-130,"r":34},
{"t":"2026-05-24T03:00","s":-95,"n":-132,"r":37},
{"t":"2026-05-24T04:00","s":-102,"n":-131,"r":29},
{"t":"2026-05-24T05:00","s":-103,"n":-130,"r":27},
{"t":"2026-05-24T06:00","s":-97,"n":-112,"r":15},
{"t":"2026-05-24T07:00","s":-98,"n":-112,"r":14},
{"t":"2026-05-24T08:00","s":-104,"n":-111,"r":7},
{"t":"2026-05-24T09:00","s":-107,"n":-113,"r":6},
{"t":"2026-05-24T10:00","s":-102,"n":-112,"r":10},
{"t":"2026-05-24T11:00","s":-110,"n":-111,"r":1},
{"t":"2026-05-24T12:00","s":-104,"n":-113,"r":9},
{"t":"2026-05-24T13:00","s":-105,"n":-114,"r":9},
{"t":"2026-05-24T14:00","s":-115,"n":-120,"r":5},
{"t":"2026-05-24T15:00","s":-128,"n":-126,"r":-2},
{"t":"2026-05-24T16:00","s":-118,"n":-136,"r":18},
{"t":"2026-05-24T17:00","s":-108,"n":-132,"r":24},
{"t":"2026-05-24T18:00","s":-100,"n":-134,"r":34},
{"t":"2026-05-24T19:00","s":-91,"n":-134,"r":43},
{"t":"2026-05-24T20:00","s":-97,"n":-133,"r":36},
{"t":"2026-05-24T21:00","s":-100,"n":-133,"r":33},
{"t":"2026-05-24T22:00","s":-94,"n":-131,"r":37},
{"t":"2026-05-24T23:00","s":-91,"n":-110,"r":19},
{"t":"2026-05-25T00:00","s":-99,"n":-112,"r":13},
{"t":"2026-05-25T01:00","s":-103,"n":-112,"r":9},
{"t":"2026-05-25T02:00","s":-98,"n":-111,"r":13},
{"t":"2026-05-25T03:00","s":-96,"n":-113,"r":17},
{"t":"2026-05-25T04:00","s":-102,"n":-130,"r":28},
{"t":"2026-05-25T05:00","s":-107,"n":-136,"r":29},
{"t":"2026-05-25T06:00","s":-101,"n":-135,"r":34},
{"t":"2026-05-25T07:00","s":-100,"n":-133,"r":33},
{"t":"2026-05-25T08:00","s":-106,"n":-136,"r":30},
{"t":"2026-05-25T09:00","s":-112,"n":-137,"r":25},
{"t":"2026-05-25T10:00","s":-104,"n":-136,"r":32},
{"t":"2026-05-25T11:00","s":-104,"n":-135,"r":31},
{"t":"2026-05-25T12:00","s":-110,"n":-134,"r":24},
{"t":"2026-05-25T13:00","s":-114,"n":-125,"r":11},
{"t":"2026-05-25T14:00","s":-119,"n":-132,"r":13},
{"t":"2026-05-25T15:00","s":-118,"n":-131,"r":13},
{"t":"2026-05-25T16:00","s":-113,"n":-112,"r":1},
{"t":"2026-05-25T17:00","s":-110,"n":-112,"r":2},
{"t":"2026-05-25T18:00","s":-100,"n":-111,"r":11},
{"t":"2026-05-25T19:00","s":-96,"n":-111,"r":15},
{"t":"2026-05-25T20:00","s":-103,"n":-132,"r":29},
{"t":"2026-05-25T21:00","s":-104,"n":-134,"r":30},
{"t":"2026-05-25T22:00","s":-98,"n":-135,"r":37},
{"t":"2026-05-25T23:00","s":-93,"n":-136,"r":43},
{"t":"2026-05-26T00:00","s":-100,"n":-133,"r":33},
{"t":"2026-05-26T01:00","s":-106,"n":-131,"r":25},
{"t":"2026-05-26T02:00","s":-98,"n":-134,"r":36},
{"t":"2026-05-26T03:00","s":-100,"n":-135,"r":35},
{"t":"2026-05-26T04:00","s":-104,"n":-134,"r":30},
{"t":"2026-05-26T05:00","s":-107,"n":-136,"r":29},
{"t":"2026-05-26T06:00","s":-103,"n":-135,"r":32},
{"t":"2026-05-26T07:00","s":-112,"n":-134,"r":22},
{"t":"2026-05-26T08:00","s":-108,"n":-135,"r":27},
{"t":"2026-05-26T09:00","s":-117,"n":-136,"r":19},
{"t":"2026-05-26T10:00","s":-110,"n":-134,"r":24},
{"t":"2026-05-26T11:00","s":-108,"n":-133,"r":25},
{"t":"2026-05-26T12:00","s":-103,"n":-135,"r":32},
{"t":"2026-05-26T13:00","s":-99,"n":-126,"r":27},
{"t":"2026-05-26T14:00","s":-108,"n":-134,"r":26},
{"t":"2026-05-26T15:00","s":-115,"n":-134,"r":19},
{"t":"2026-05-26T16:00","s":-106,"n":-133,"r":27},
{"t":"2026-05-26T17:00","s":-109,"n":-133,"r":24},
{"t":"2026-05-26T18:00","s":-101,"n":-134,"r":33},
{"t":"2026-05-26T19:00","s":-91,"n":-130,"r":39},
{"t":"2026-05-26T20:00","s":-100,"n":-133,"r":33},
{"t":"2026-05-26T21:00","s":-105,"n":-134,"r":29},
{"t":"2026-05-26T22:00","s":-99,"n":-132,"r":33},
{"t":"2026-05-26T23:00","s":-95,"n":-131,"r":36},
{"t":"2026-05-27T00:00","s":-102,"n":-130,"r":28},
{"t":"2026-05-27T01:00","s":-89,"n":-125,"r":36},
{"t":"2026-05-27T02:00","s":-98,"n":-132,"r":34},
{"t":"2026-05-27T03:00","s":-86,"n":-125,"r":39},
{"t":"2026-05-27T04:00","s":-97,"n":-131,"r":34},
{"t":"2026-05-27T05:00","s":-104,"n":-131,"r":27},
{"t":"2026-05-27T06:00","s":-98,"n":-132,"r":34},
{"t":"2026-05-27T07:00","s":-96,"n":-133,"r":37},
{"t":"2026-05-27T08:00","s":-105,"n":-128,"r":23},
{"t":"2026-05-27T09:00","s":-117,"n":-122,"r":5},
{"t":"2026-05-27T10:00","s":-110,"n":-131,"r":21},
{"t":"2026-05-27T11:00","s":-106,"n":-112,"r":6},
{"t":"2026-05-27T12:00","s":-112,"n":-128,"r":16},
{"t":"2026-05-27T13:00","s":-121,"n":-133,"r":12},
{"t":"2026-05-27T14:00","s":-110,"n":-120,"r":10},
{"t":"2026-05-27T15:00","s":-120,"n":-126,"r":6},
{"t":"2026-05-27T16:00","s":-112,"n":-130,"r":18},
{"t":"2026-05-27T17:00","s":-104,"n":-111,"r":7},
{"t":"2026-05-27T18:00","s":-100,"n":-128,"r":28},
{"t":"2026-05-27T19:00","s":-108,"n":-131,"r":23},
{"t":"2026-05-27T20:00","s":-98,"n":-130,"r":32},
{"t":"2026-05-27T21:00","s":-90,"n":-117,"r":27},
{"t":"2026-05-27T22:00","s":-100,"n":-129,"r":29},
{"t":"2026-05-27T23:00","s":-104,"n":-132,"r":28},
{"t":"2026-05-28T00:00","s":-97,"n":-128,"r":31},
{"t":"2026-05-28T01:00","s":-92,"n":-130,"r":38},
{"t":"2026-05-28T02:00","s":-100,"n":-128,"r":28},
{"t":"2026-05-28T03:00","s":-85,"n":-127,"r":42},
{"t":"2026-05-28T04:00","s":-96,"n":-125,"r":29},
{"t":"2026-05-28T05:00","s":-102,"n":-126,"r":24},
{"t":"2026-05-28T06:00","s":-92,"n":-128,"r":36},
{"t":"2026-05-28T07:00","s":-95,"n":-130,"r":35},
{"t":"2026-05-28T08:00","s":-104,"n":-127,"r":23},
{"t":"2026-05-28T09:00","s":-112,"n":-129,"r":17},
{"t":"2026-05-28T10:00","s":-108,"n":-126,"r":18},
{"t":"2026-05-28T11:00","s":-118,"n":-120,"r":-1},
{"t":"2026-05-28T12:00","s":-125,"n":-130,"r":5},
{"t":"2026-05-28T13:00","s":-114,"n":-110,"r":-3},
{"t":"2026-05-28T14:00","s":-122,"n":-128,"r":6},
{"t":"2026-05-28T15:00","s":-128,"n":-131,"r":3},
{"t":"2026-05-28T16:00","s":-118,"n":-130,"r":12},
{"t":"2026-05-28T17:00","s":-113,"n":-114,"r":1},
{"t":"2026-05-28T18:00","s":-119,"n":-128,"r":9},
{"t":"2026-05-28T19:00","s":-122,"n":-133,"r":11},
{"t":"2026-05-28T20:00","s":-112,"n":-126,"r":14},
{"t":"2026-05-28T21:00","s":-105,"n":-127,"r":22},
{"t":"2026-05-28T22:00","s":-100,"n":-131,"r":31},
{"t":"2026-05-28T23:00","s":-96,"n":-133,"r":37},
{"t":"2026-05-29T00:00","s":-102,"n":-128,"r":26},
{"t":"2026-05-29T01:00","s":-106,"n":-122,"r":16},
{"t":"2026-05-29T02:00","s":-97,"n":-130,"r":33},
{"t":"2026-05-29T03:00","s":-99,"n":-131,"r":32},
{"t":"2026-05-29T04:00","s":-108,"n":-128,"r":20},
{"t":"2026-05-29T05:00","s":-93,"n":-127,"r":34},
{"t":"2026-05-29T06:00","s":-104,"n":-130,"r":26},
{"t":"2026-05-29T07:00","s":-110,"n":-111,"r":1},
{"t":"2026-05-29T08:00","s":-116,"n":-129,"r":13},
{"t":"2026-05-29T09:00","s":-124,"n":-130,"r":6},
{"t":"2026-05-29T10:00","s":-118,"n":-135,"r":17},
{"t":"2026-05-29T11:00","s":-127,"n":-136,"r":9},
{"t":"2026-05-29T12:00","s":-120,"n":-128,"r":8},
{"t":"2026-05-29T13:00","s":-115,"n":-129,"r":14},
{"t":"2026-05-29T14:00","s":-124,"n":-126,"r":2},
{"t":"2026-05-29T15:00","s":-121,"n":-128,"r":7},
{"t":"2026-05-29T16:00","s":-116,"n":-129,"r":13},
{"t":"2026-05-29T17:00","s":-112,"n":-116,"r":4},
{"t":"2026-05-29T18:00","s":-114,"n":-131,"r":17},
{"t":"2026-05-29T19:00","s":-108,"n":-133,"r":25},
{"t":"2026-05-29T20:00","s":-104,"n":-134,"r":30},
{"t":"2026-05-29T21:00","s":-100,"n":-135,"r":35},
{"t":"2026-05-29T22:00","s":-103,"n":-133,"r":30},
{"t":"2026-05-29T23:00","s":-106,"n":-134,"r":28},
{"t":"2026-05-30T00:00","s":-100,"n":-135,"r":35},
{"t":"2026-05-30T01:00","s":-98,"n":-136,"r":38},
{"t":"2026-05-30T02:00","s":-104,"n":-135,"r":31},
{"t":"2026-05-30T03:00","s":-108,"n":-137,"r":29},
{"t":"2026-05-30T04:00","s":-104,"n":-136,"r":32},
{"t":"2026-05-30T05:00","s":-111,"n":-136,"r":25},
{"t":"2026-05-30T06:00","s":-107,"n":-137,"r":30},
{"t":"2026-05-30T07:00","s":-116,"n":-138,"r":22},
{"t":"2026-05-30T08:00","s":-112,"n":-137,"r":25},
{"t":"2026-05-30T09:00","s":-120,"n":-139,"r":19},
{"t":"2026-05-30T10:00","s":-115,"n":-134,"r":19},
{"t":"2026-05-30T11:00","s":-131,"n":-130,"r":-1},
{"t":"2026-05-30T12:00","s":-118,"n":-116,"r":-2},
{"t":"2026-05-30T13:00","s":-108,"n":-112,"r":4},
{"t":"2026-05-30T14:00","s":-100,"n":-114,"r":14},
{"t":"2026-05-30T15:00","s":-91,"n":-115,"r":24},
{"t":"2026-05-30T16:00","s":-100,"n":-112,"r":12},
{"t":"2026-05-30T17:00","s":-86,"n":-104,"r":18},
{"t":"2026-05-30T18:00","s":-97,"n":-114,"r":17},
{"t":"2026-05-30T19:00","s":-102,"n":-113,"r":11},
{"t":"2026-05-30T20:00","s":-95,"n":-111,"r":16},
{"t":"2026-05-30T21:00","s":-97,"n":-115,"r":18},
{"t":"2026-05-30T22:00","s":-103,"n":-112,"r":9},
{"t":"2026-05-30T23:00","s":-106,"n":-113,"r":7},
{"t":"2026-05-31T00:00","s":-98,"n":-115,"r":17},
{"t":"2026-05-31T01:00","s":-100,"n":-109,"r":9},
{"t":"2026-05-31T02:00","s":-105,"n":-113,"r":8},
{"t":"2026-05-31T03:00","s":-98,"n":-114,"r":16},
{"t":"2026-05-31T04:00","s":-102,"n":-112,"r":10},
{"t":"2026-05-31T05:00","s":-107,"n":-112,"r":5},
{"t":"2026-05-31T06:00","s":-100,"n":-115,"r":15},
{"t":"2026-05-31T07:00","s":-104,"n":-126,"r":22},
{"t":"2026-05-31T08:00","s":-97,"n":-113,"r":16},
{"t":"2026-05-31T09:00","s":-91,"n":-113,"r":22},
{"t":"2026-05-31T10:00","s":-100,"n":-122,"r":22},
{"t":"2026-05-31T11:00","s":-109,"n":-128,"r":19},
{"t":"2026-05-31T12:00","s":-100,"n":-113,"r":13},
{"t":"2026-05-31T13:00","s":-104,"n":-113,"r":9},
{"t":"2026-05-31T14:00","s":-98,"n":-118,"r":20},
{"t":"2026-05-31T15:00","s":-95,"n":-125,"r":30},
{"t":"2026-05-31T16:00","s":-100,"n":-114,"r":14},
{"t":"2026-05-31T17:00","s":-90,"n":-112,"r":22},
{"t":"2026-05-31T18:00","s":-99,"n":-125,"r":26},
{"t":"2026-05-31T19:00","s":-105,"n":-133,"r":28},
{"t":"2026-05-31T20:00","s":-98,"n":-127,"r":29},
{"t":"2026-05-31T21:00","s":-101,"n":-130,"r":29}
]},
"encoding": {
 "x": {"field": "t", "type": "temporal",
  "scale": {"domain": [{"year":2026,"month":4,"date":29,"hours":8,"minutes":36}, {"year":2026,"month":6,"date":2,"hours":10,"minutes":39}], "nice": false},
  "axis": {"title": "Date", "titlePadding": 5, "format": "%d.%m.%y", "labelOverlap": false, "labelFlush": false,
   "values": [{"year":2026,"month":4,"date":30},{"year":2026,"month":5,"date":1},{"year":2026,"month":5,"date":2},{"year":2026,"month":5,"date":3},{"year":2026,"month":5,"date":4},{"year":2026,"month":5,"date":5},{"year":2026,"month":5,"date":6},{"year":2026,"month":5,"date":7},{"year":2026,"month":5,"date":8},{"year":2026,"month":5,"date":9},{"year":2026,"month":5,"date":10},{"year":2026,"month":5,"date":11},{"year":2026,"month":5,"date":12},{"year":2026,"month":5,"date":13},{"year":2026,"month":5,"date":14},{"year":2026,"month":5,"date":15},{"year":2026,"month":5,"date":16},{"year":2026,"month":5,"date":17},{"year":2026,"month":5,"date":18},{"year":2026,"month":5,"date":19},{"year":2026,"month":5,"date":20},{"year":2026,"month":5,"date":21},{"year":2026,"month":5,"date":22},{"year":2026,"month":5,"date":23},{"year":2026,"month":5,"date":24},{"year":2026,"month":5,"date":25},{"year":2026,"month":5,"date":26},{"year":2026,"month":5,"date":27},{"year":2026,"month":5,"date":28},{"year":2026,"month":5,"date":29},{"year":2026,"month":5,"date":30},{"year":2026,"month":5,"date":31},{"year":2026,"month":6,"date":1},{"year":2026,"month":6,"date":2}],
   "labelExpr": "date(datum.value) % 7 == 6 && month(datum.value) == 4 ? datum.label : ''",
   "tickSize": {"condition": {"test": "date(datum.value) % 7 == 6 && month(datum.value) == 4", "value": 4.9}, "value": 2.8},
   "tickWidth": {"condition": {"test": "date(datum.value) % 7 == 6 && month(datum.value) == 4", "value": 1.1}, "value": 0.85},
   "gridOpacity": {"condition": {"test": "date(datum.value) % 7 == 6 && month(datum.value) == 4", "value": 1}, "value": 0}
  }}
},
"layer": [
 {"layer": [
  {"mark": {"type": "line", "color": "#0000ff", "strokeWidth": 2.1},
   "encoding": {"y": {"field": "s", "type": "quantitative", "scale": {"domain": [-142.3, -81.4], "nice": false, "zero": false},
     "axis": {"orient": "left", "title": "signallevel [dBm]", "titlePadding": 8, "values": [-140, -130, -120, -110, -100, -90], "grid": true}}}},
  {"mark": {"type": "line", "color": "#ff0000", "strokeWidth": 2.1},
   "encoding": {"y": {"field": "n", "type": "quantitative",
     "axis": {"orient": "left", "title": "signallevel [dBm]", "titlePadding": 8, "values": [-140, -130, -120, -110, -100, -90], "grid": true}}}}
 ]},
 {"mark": {"type": "line", "color": "#008000", "opacity": 0.3, "strokeWidth": 2.1, "strokeDash": [2.1, 3.4]},
  "encoding": {"y": {"field": "r", "type": "quantitative", "scale": {"domain": [-5.3, 54.3], "nice": false, "zero": false},
    "axis": {"orient": "right", "title": "SNR [dB]", "titlePadding": 5, "values": [0, 10, 20, 30, 40, 50], "grid": false}}}}
],
"resolve": {"scale": {"y": "independent"}}
}
